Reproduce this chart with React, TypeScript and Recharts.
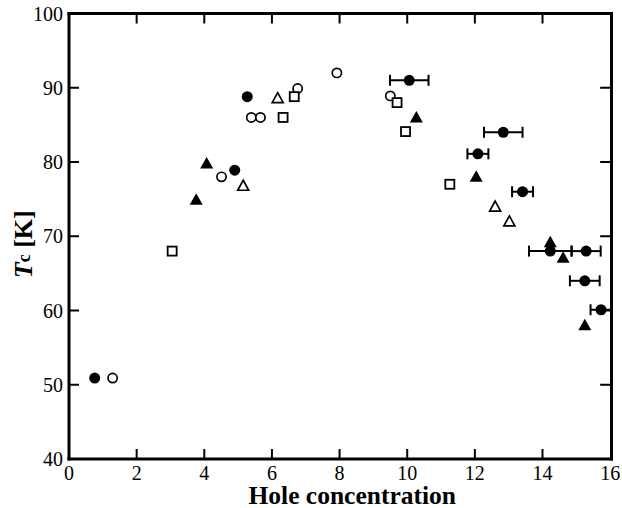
import { ScatterChart, Scatter, XAxis, YAxis, ErrorBar, Label } from 'recharts';

type Pt = { x: number; y: number; err?: number };

// Tc vs hole concentration
const filledCircles: Pt[] = [
  { x: 0.76, y: 50.9 },
  { x: 4.9, y: 78.9 },
  { x: 5.27, y: 88.8 },
];

const filledCirclesErr: Pt[] = [
  { x: 10.06, y: 91.0, err: 0.57 },
  { x: 12.09, y: 81.1, err: 0.31 },
  { x: 12.84, y: 84.0, err: 0.57 },
  { x: 13.41, y: 76.0, err: 0.31 },
  { x: 14.23, y: 68.0, err: 0.63 },
  { x: 15.29, y: 68.0, err: 0.43 },
  { x: 15.25, y: 64.0, err: 0.44 },
  { x: 15.73, y: 60.1, err: 0.31 },
];

const openCircles: Pt[] = [
  { x: 1.29, y: 50.9 },
  { x: 4.51, y: 78.0 },
  { x: 5.39, y: 86.0 },
  { x: 5.66, y: 86.0 },
  { x: 6.76, y: 89.9 },
  { x: 7.92, y: 92.0 },
  { x: 9.5, y: 88.9 },
];

const filledTriangles: Pt[] = [
  { x: 3.76, y: 74.9 },
  { x: 4.07, y: 79.8 },
  { x: 10.27, y: 86.0 },
  { x: 12.04, y: 78.0 },
  { x: 14.23, y: 69.2 },
  { x: 14.61, y: 67.1 },
  { x: 15.25, y: 58.0 },
];

const openTriangles: Pt[] = [
  { x: 5.15, y: 76.8 },
  { x: 6.17, y: 88.6 },
  { x: 12.6, y: 74.0 },
  { x: 13.02, y: 72.0 },
];

const openSquares: Pt[] = [
  { x: 3.05, y: 68.0 },
  { x: 6.33, y: 86.0 },
  { x: 6.66, y: 88.8 },
  { x: 9.7, y: 88.0 },
  { x: 9.95, y: 84.1 },
  { x: 11.26, y: 77.0 },
];

const xTicks = [0, 2, 4, 6, 8, 10, 12, 14, 16];
const yTicks = [40, 50, 60, 70, 80, 90, 100];
const X_DOMAIN = [0, 16];
const Y_DOMAIN = [40, 100];

const FONT = 'Liberation Serif';
const TICK_LEN = 10;
const axisLine = { stroke: '#000', strokeWidth: 3, strokeLinecap: 'square' as const };
const tickStyle = { fill: '#000', fontSize: 20, fontFamily: FONT };

// inward tick marks on all four sides, placed on the axes' own scales
const innerX = xTicks.slice(1, -1);
const innerY = yTicks.slice(1, -1);
const bottomMarks = innerX.map((v) => ({ x: v, y: Y_DOMAIN[0] }));
const topMarks = innerX.map((v) => ({ x: v, y: Y_DOMAIN[1] }));
const leftMarks = innerY.map((v) => ({ x: X_DOMAIN[0], y: v }));
const rightMarks = innerY.map((v) => ({ x: X_DOMAIN[1], y: v }));

const mark = (dx: number, dy: number) => (p: any) => (
  <line x1={p.cx} y1={p.cy} x2={p.cx + dx * TICK_LEN} y2={p.cy + dy * TICK_LEN} stroke="#000" strokeWidth={2} />
);

const FilledCircle = (p: any) => <circle cx={p.cx} cy={p.cy} r={5.5} fill="#000" />;
const OpenCircle = (p: any) => (
  <circle cx={p.cx} cy={p.cy} r={4.6} fill="#fff" stroke="#000" strokeWidth={1.7} />
);
const FilledTriangle = (p: any) => (
  <polygon
    points={`${p.cx},${p.cy - 6.5} ${p.cx + 6.5},${p.cy + 5} ${p.cx - 6.5},${p.cy + 5}`}
    fill="#000"
  />
);
const OpenTriangle = (p: any) => (
  <polygon
    points={`${p.cx},${p.cy - 5.5} ${p.cx + 5.5},${p.cy + 4.5} ${p.cx - 5.5},${p.cy + 4.5}`}
    fill="#fff"
    stroke="#000"
    strokeWidth={1.7}
  />
);
const OpenSquare = (p: any) => (
  <rect x={p.cx - 4.5} y={p.cy - 4.5} width={9} height={9} fill="#fff" stroke="#000" strokeWidth={1.8} />
);

const YTitle = ({ viewBox }: any) => {
  const cx = 32;
  const cy = (viewBox?.y ?? 13.5) + (viewBox?.height ?? 445.5) / 2 + 8;
  return (
    <text
      x={cx}
      y={cy}
      transform={`rotate(-90 ${cx} ${cy})`}
      textAnchor="middle"
      fontFamily={FONT}
      fontWeight="bold"
      fontSize={26}
      fill="#000"
    >
      <tspan fontStyle="italic">T</tspan>
      <tspan fontSize={18} dy={-2}>c</tspan>
      <tspan dy={2}> [K]</tspan>
    </text>
  );
};

const XTitle = ({ viewBox }: any) => {
  const cx = (viewBox?.x ?? 69) + (viewBox?.width ?? 542.5) / 2 + 12;
  return (
    <text x={cx} y={504} textAnchor="middle" fontFamily={FONT} fontWeight="bold" fontSize={25.5} fill="#000">
      Hole concentration
    </text>
  );
};

export default function App() {
  const ids = { xAxisId: 'bottom', yAxisId: 'left' };
  return (
    <div style={{ position: 'absolute', left: 0, top: 0, background: '#fff', fontFamily: FONT }}>
      <ScatterChart width={622} height={508} margin={{ top: 12.5, right: 9.5, bottom: 0, left: 20 }}>
        <XAxis
          xAxisId="bottom"
          dataKey="x"
          type="number"
          domain={X_DOMAIN}
          ticks={xTicks}
          interval={0}
          height={49}
          axisLine={axisLine}
          tickLine={false}
          tick={tickStyle}
          tickSize={0}
          tickMargin={7}
        >
          <Label content={<XTitle />} />
        </XAxis>
        <XAxis
          xAxisId="top"
          orientation="top"
          type="number"
          domain={X_DOMAIN}
          height={1}
          axisLine={axisLine}
          tickLine={false}
          tick={false}
        />
        <YAxis
          yAxisId="left"
          dataKey="y"
          type="number"
          domain={Y_DOMAIN}
          ticks={yTicks}
          interval={0}
          width={49}
          axisLine={axisLine}
          tickLine={false}
          tick={tickStyle}
          tickSize={0}
          tickMargin={6}
        >
          <Label content={<YTitle />} />
        </YAxis>
        <YAxis
          yAxisId="right"
          orientation="right"
          type="number"
          domain={Y_DOMAIN}
          width={1}
          axisLine={axisLine}
          tickLine={false}
          tick={false}
        />
        <Scatter data={bottomMarks} {...ids} shape={mark(0, -1)} isAnimationActive={false} />
        <Scatter data={topMarks} {...ids} shape={mark(0, 1)} isAnimationActive={false} />
        <Scatter data={leftMarks} {...ids} shape={mark(1, 0)} isAnimationActive={false} />
        <Scatter data={rightMarks} {...ids} shape={mark(-1, 0)} isAnimationActive={false} />
        <Scatter data={filledCirclesErr} {...ids} shape={FilledCircle} isAnimationActive={false}>
          <ErrorBar dataKey="err" direction="x" width={5.5} stroke="#000" strokeWidth={2} isAnimationActive={false} />
        </Scatter>
        <Scatter data={filledCircles} {...ids} shape={FilledCircle} isAnimationActive={false} />
        <Scatter data={openCircles} {...ids} shape={OpenCircle} isAnimationActive={false} />
        <Scatter data={openSquares} {...ids} shape={OpenSquare} isAnimationActive={false} />
        <Scatter data={openTriangles} {...ids} shape={OpenTriangle} isAnimationActive={false} />
        <Scatter data={filledTriangles} {...ids} shape={FilledTriangle} isAnimationActive={false} />
      </ScatterChart>
    </div>
  );
}
